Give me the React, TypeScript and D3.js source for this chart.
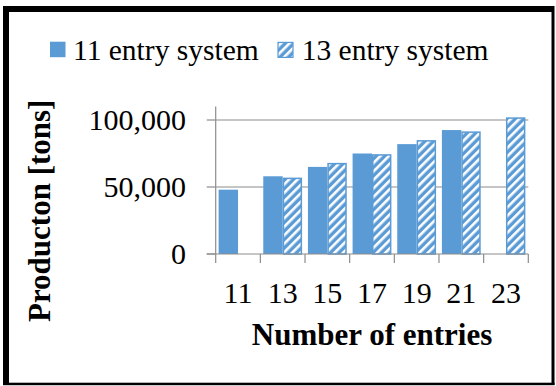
import React from "react";
import * as d3 from "d3";

const categories = ["11", "13", "15", "17", "19", "21", "23"];
const seriesNames = ["11 entry system", "13 entry system"];
const series11: (number | null)[] = [48000, 58000, 65000, 75000, 82000, 92500, null];
const series13: (number | null)[] = [null, 57000, 68000, 74500, 85000, 91500, 102000];
const yTicks = [0, 50000, 100000];

const W = 556;
const H = 386;
const BLUE = "#5B9BD5";
const AXIS = "#8C8C8C";

export default function App() {
  const x0 = d3.scaleBand<string>().domain(categories).range([215.7, 528.3]).padding(0);
  const x1 = d3
    .scaleBand<string>()
    .domain(seriesNames)
    .range([0, x0.bandwidth()])
    .paddingInner(0)
    .paddingOuter(0.15);
  const y = d3.scaleLinear().domain([0, 110000]).range([254, 106.6]);
  const fmt = d3.format(",");

  const rows = categories.map((c, i) => ({ c, vals: [series11[i], series13[i]] }));
  const x0Left = x0.range()[0];
  const x0Right = x0.range()[1];
  const tickLen = 9;

  return (
    <div style={{ position: "absolute", left: 0, top: 0 }}>
      <svg width={W} height={H} style={{ display: "block", fontFamily: "'Liberation Serif', 'Times New Roman', Times, serif" }}>
        <defs>
          <pattern id="hatch" patternUnits="userSpaceOnUse" width="6" height="6" patternTransform="rotate(45)">
            <rect x="0" y="0" width="6" height="6" fill={BLUE} />
            <rect x="0" y="0" width="2.6" height="6" fill="#ffffff" />
          </pattern>
        </defs>
        <rect x={0} y={0} width={W} height={H} fill="#ffffff" />

        {/* gridlines */}
        {yTicks
          .filter((t) => t !== 0)
          .map((t) => (
            <line key={"g" + t} x1={x0Left} x2={x0Right} y1={y(t)} y2={y(t)} stroke={AXIS} strokeWidth={1.2} />
          ))}

        {/* bars */}
        {rows.map((r) =>
          r.vals.map((v, si) => {
            if (v == null) return null;
            const bx = (x0(r.c) as number) + (x1(seriesNames[si]) as number);
            const bw = x1.bandwidth();
            const top = y(v);
            if (si === 0) {
              return <rect key={r.c + si} x={bx} y={top} width={bw} height={y(0) - top} fill={BLUE} />;
            }
            return (
              <rect
                key={r.c + si}
                x={bx + 0.75}
                y={top + 0.75}
                width={bw - 1.5}
                height={y(0) - top - 0.75}
                fill="url(#hatch)"
                stroke={BLUE}
                strokeWidth={1.5}
              />
            );
          })
        )}

        {/* y axis */}
        <line x1={x0Left} x2={x0Left} y1={106.6} y2={y(0) + tickLen} stroke={AXIS} strokeWidth={1.2} />
        {yTicks.map((t) => (
          <g key={"yt" + t}>
            <line x1={x0Left - tickLen} x2={x0Left} y1={y(t)} y2={y(t)} stroke={AXIS} strokeWidth={1.2} />
            <text x={186} y={y(t) + 10} textAnchor="end" fontSize={30} fill="#000">
              {fmt(t)}
            </text>
          </g>
        ))}

        {/* x axis */}
        <line x1={x0Left - tickLen} x2={x0Right} y1={y(0)} y2={y(0)} stroke={AXIS} strokeWidth={1.2} />
        {categories.map((c) => (
          <line
            key={"xt" + c}
            x1={(x0(c) as number) + x0.bandwidth()}
            x2={(x0(c) as number) + x0.bandwidth()}
            y1={y(0)}
            y2={y(0) + tickLen}
            stroke={AXIS}
            strokeWidth={1.2}
          />
        ))}
        {categories.map((c) => (
          <text
            key={"xl" + c}
            x={(x0(c) as number) + x0.bandwidth() / 2}
            y={302.7}
            textAnchor="middle"
            fontSize={30}
            fill="#000"
          >
            {c}
          </text>
        ))}

        {/* axis titles */}
        <text x={(x0Left + x0Right) / 2} y={345} textAnchor="middle" fontSize={31} fontWeight="bold" fill="#000">
          Number of entries
        </text>
        <text
          transform={`translate(50,210.8) rotate(-90)`}
          textAnchor="middle"
          fontSize={31}
          fontWeight="bold"
          fill="#000"
        >
          Producton [tons]
        </text>

        {/* legend */}
        <rect x={50} y={41.7} width={15.5} height={15.5} fill={BLUE} />
        <text x={73} y={59.5} fontSize={29.5} fill="#000">
          {seriesNames[0]}
        </text>
        <rect x={278} y={42.4} width={15} height={15} fill="url(#hatch)" stroke={BLUE} strokeWidth={1.2} />
        <text x={301.7} y={59.5} fontSize={29.5} fill="#000">
          {seriesNames[1]}
        </text>

        {/* outer border */}
        <rect x={3} y={6} width={6} height={379} fill="#000" />
        <rect x={3} y={6} width={551} height={6} fill="#000" />
        <rect x={551.5} y={6} width={3} height={379} fill="#000" />
        <rect x={3} y={382.7} width={551.5} height={2.5} fill="#000" />
      </svg>
    </div>
  );
}
